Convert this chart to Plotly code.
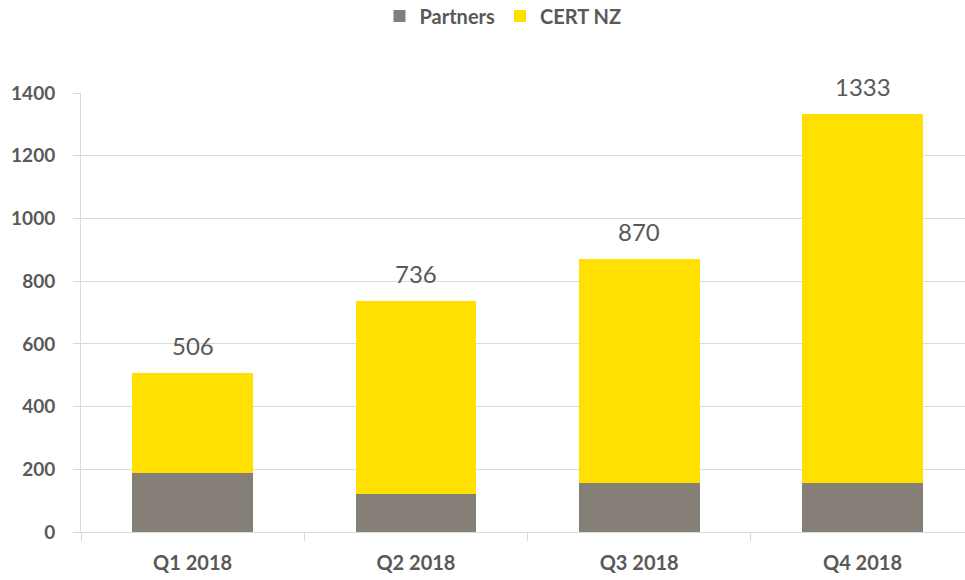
import plotly.graph_objects as go

categories = ["Q1 2018", "Q2 2018", "Q3 2018", "Q4 2018"]
partners = [187, 120, 156, 156]
totals = [506, 736, 870, 1333]
cert_nz = [t - p for t, p in zip(totals, partners)]
y_ticks = [0, 200, 400, 600, 800, 1000, 1200, 1400]

GRAY_TXT = "#595959"
GRID = "#D9D9D9"
fig = go.Figure()
fig.add_bar(x=categories, y=partners, name="Partners", marker_color="#857F77",
            marker_line_width=0)
fig.add_bar(x=categories, y=cert_nz, name="CERT NZ", marker_color="#FFE000",
            marker_line_width=0)
for c, t in zip(categories, totals):
    fig.add_annotation(x=c, y=t, text=str(t), showarrow=False, yanchor="middle",
                       yshift=28, font=dict(size=24, color=GRAY_TXT, family="Lato"))

fig.update_layout(
    barmode="stack",
    bargap=0.46,
    width=965, height=580,
    margin=dict(l=81, r=0, t=93, b=48, autoexpand=False),
    paper_bgcolor="white", plot_bgcolor="white",
    font=dict(family="Lato", color=GRAY_TXT),
    legend=dict(orientation="h", x=503 / 965, xref="container", xanchor="center",
                y=(580 - 16) / 580, yanchor="middle", yref="container",
                font=dict(size=20, color=GRAY_TXT, family="Lato", weight="bold"),
                traceorder="normal"),
    showlegend=True,
)
fig.update_xaxes(type="category", range=[-0.5, 3.459], showline=True, linecolor=GRID,
                 linewidth=1, ticks="outside", tickson="boundaries", ticklen=8,
                 tickcolor=GRID, ticklabelstandoff=13,
                 tickfont=dict(size=20, color=GRAY_TXT, family="Lato", weight="bold"),
                 showgrid=False)
fig.update_yaxes(range=[0, 1400], tickvals=y_ticks, showgrid=True, gridcolor=GRID,
                 zeroline=False, showline=True, linecolor=GRID, linewidth=1,
                 ticks="outside", ticklen=7, tickcolor=GRID, ticklabelstandoff=14,
                 tickfont=dict(size=19, color=GRAY_TXT, family="Lato", weight="bold"))

fig.write_html("out.html", config={"displayModeBar": False},
               post_script="document.body.style.margin='0';document.body.style.overflow='hidden';")
